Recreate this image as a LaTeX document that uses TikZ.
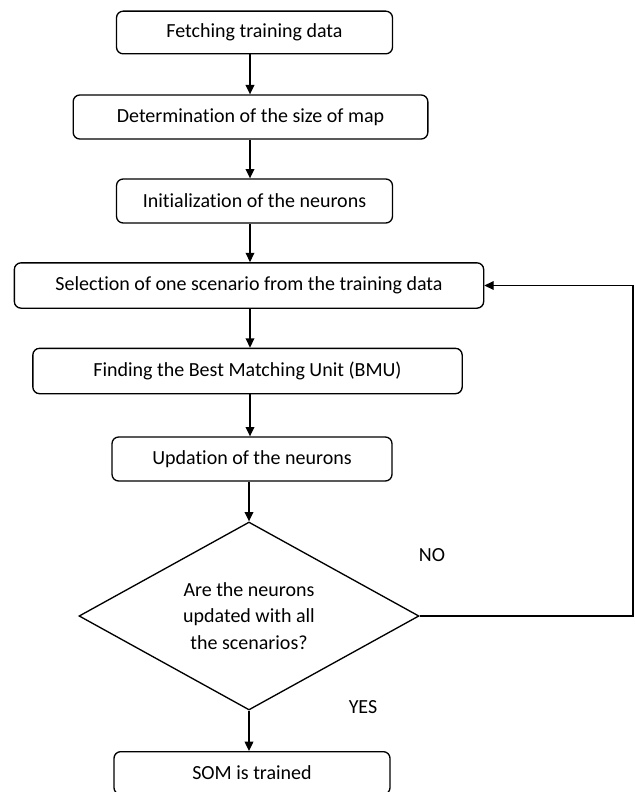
\documentclass[tikz,border=0pt]{standalone}
\usepackage{fontspec}
\setmainfont[Ligatures=NoCommon]{Carlito}
\usetikzlibrary{shapes.geometric,arrows.meta}
\begin{document}
\begin{tikzpicture}[x=0.75pt,y=-0.75pt,
  every node/.style={font=\fontsize{15pt}{20pt}\selectfont},
  stepbox/.style={draw,line width=1pt,rounded corners=5pt,inner sep=0pt,align=center},
  decision/.style={draw,line width=1pt,shape=diamond,aspect=1.8,inner sep=0pt,align=center,
    minimum width=255pt,minimum height=141pt},
  flow/.style={line width=1pt,-{Triangle[length=7pt,width=6.5pt]}},
  lbl/.style={inner sep=0pt}]
\useasboundingbox (0,0) rectangle (635,792);

% process steps
\node[stepbox,minimum width=207pt,minimum height=32pt] (b1) at (254.5,32.5) {Fetching training data};
\node[stepbox,minimum width=266pt,minimum height=33pt] (b2) at (250.5,117) {Determination of the size of map};
\node[stepbox,minimum width=207pt,minimum height=33pt] (b3) at (254.5,201) {Initialization of the neurons};
\node[stepbox,minimum width=352pt,minimum height=34pt] (b4) at (249,285.5) {Selection of one scenario from the training data};
\node[stepbox,minimum width=322pt,minimum height=34pt] (b5) at (247.5,371) {Finding the Best Matching Unit (BMU)};
\node[stepbox,minimum width=210pt,minimum height=33pt] (b6) at (252,459) {Updation of the neurons};
\node[decision] (d) at (249,616) {Are the neurons\\updated with all\\the scenarios?};
\node[stepbox,minimum width=207pt,minimum height=32pt] (b7) at (252,773) {SOM is trained};

% branch labels
\node[lbl] at (432,555) {NO};
\node[lbl] at (363,707) {YES};

% vertical spine and loop-back column
\coordinate (spine) at (250,0);
\coordinate (back) at (633,0);

\draw[flow] (b1.south -| spine) -- (b2.north -| spine);
\draw[flow] (b2.south -| spine) -- (b3.north -| spine);
\draw[flow] (b3.south -| spine) -- (b4.north -| spine);
\draw[flow] (b4.south -| spine) -- (b5.north -| spine);
\draw[flow] (b5.south -| spine) -- (b6.north -| spine);
\draw[flow] (b6.south -| d.north) -- (d.north);
\draw[flow] (d.south) -- (b7.north -| d.south);
\draw[flow] (d.east) -- (d.east -| back) |- (b4.east);
\end{tikzpicture}
\end{document}
